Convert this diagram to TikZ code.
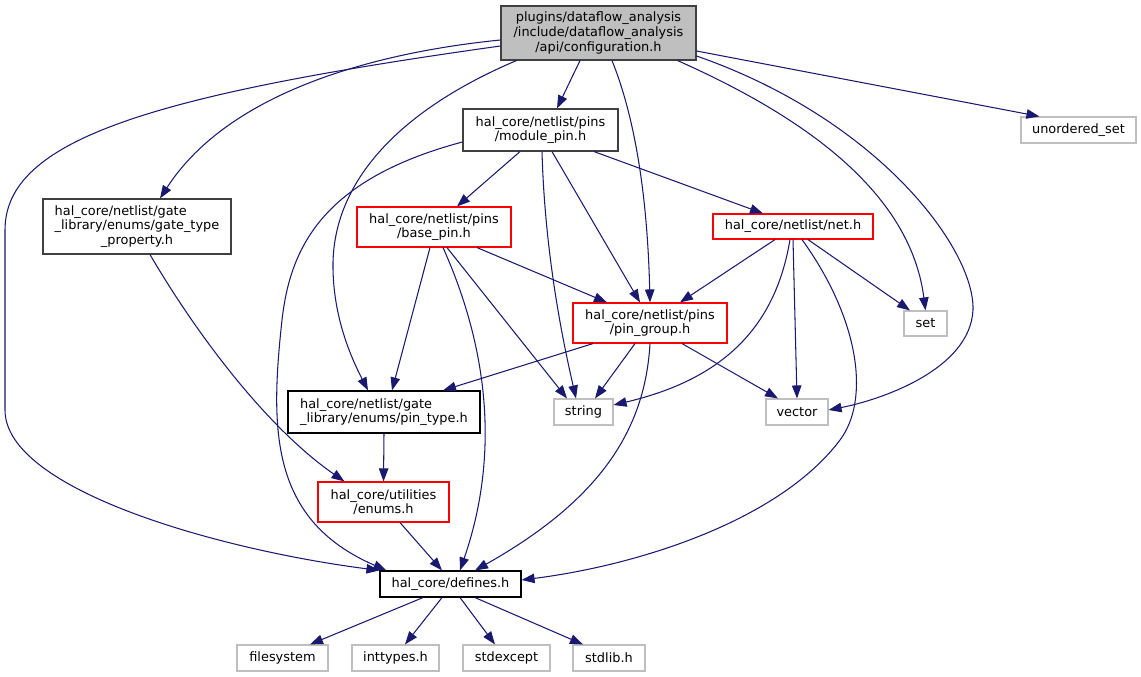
\documentclass[tikz,border=0pt]{standalone}
\usepackage{fontspec}
\setmainfont{DejaVu Sans}
\usetikzlibrary{arrows.meta,calc}
\definecolor{edgecol}{HTML}{191970}
\definecolor{sysbord}{HTML}{BFBFBF}
\definecolor{cfgfill}{HTML}{BFBFBF}
\definecolor{darkbord}{HTML}{404040}
\definecolor{redbord}{HTML}{FF0000}
\begin{document}
\begin{tikzpicture}[x=1pt,y=-1pt,
  font=\fontsize{12.9}{14.6}\selectfont,
  box/.style={draw=black, line width=1.15pt, inner sep=0pt, align=center},
  darkbox/.style={box, draw=darkbord},
  redbox/.style={box, draw=redbord},
  sysbox/.style={box, draw=sysbord, minimum height=26pt},
  cfgbox/.style={box, draw=darkbord, fill=cfgfill},
  edge/.style={draw=edgecol, line width=1.05pt, -{Triangle[length=13pt,width=9.5pt]}}]
\useasboundingbox (0,0) rectangle (1141,677);

% nodes
\node[cfgbox, minimum width=195pt, minimum height=54pt] (cfg) at (598.5,33)
  {plugins/dataflow\_analysis\\/include/dataflow\_analysis\\/api/configuration.h};
\node[darkbox, minimum width=155pt, minimum height=42pt] (mp) at (540.5,130)
  {hal\_core/netlist/pins\\/module\_pin.h};
\node[sysbox, minimum width=115pt] (us) at (1078.5,130) {unordered\_set};
\node[darkbox, minimum width=188pt, minimum height=55pt] (gtp) at (137,226.5)
  {\rlap{hal\_core/netlist/gate}\phantom{\_library/enums/gate\_type}\\\_library/enums/gate\_type\\\_property.h};
\node[redbox, minimum width=154pt, minimum height=40pt] (bp) at (434,227)
  {hal\_core/netlist/pins\\/base\_pin.h};
\node[redbox, minimum width=160pt, minimum height=25pt] (net) at (793,226.5)
  {hal\_core/netlist/net.h};
\node[redbox, minimum width=154pt, minimum height=40pt] (pg) at (650,323)
  {hal\_core/netlist/pins\\/pin\_group.h};
\node[sysbox, minimum width=43pt, minimum height=25pt] (set) at (925.5,323.5) {set};
\node[box, minimum width=192pt, minimum height=42pt] (pt) at (384,412)
  {\rlap{hal\_core/netlist/gate}\phantom{\_library/enums/pin\_type.h}\\\_library/enums/pin\_type.h};
\node[sysbox, minimum width=59pt] (str) at (583.5,412) {string};
\node[sysbox, minimum width=62pt] (vec) at (797,412) {vector};
\node[redbox, minimum width=131pt, minimum height=40pt] (en) at (383.5,502)
  {hal\_core/utilities\\/enums.h};
\node[box, minimum width=141pt, minimum height=26pt] (def) at (450.5,584) {hal\_core/defines.h};
\node[sysbox, minimum width=91pt] (fs) at (282.5,658) {filesystem};
\node[sysbox, minimum width=87pt] (it) at (395.5,658) {inttypes.h};
\node[sysbox, minimum width=87pt] (se) at (506.5,658) {stdexcept};
\node[sysbox, minimum width=72pt] (sl) at (609,658) {stdlib.h};

% edges from configuration.h
\draw[edge] ($(cfg.west)+(0,13)$) .. controls (150,95) and (5,140) .. (5,230)
  -- (5,410) .. controls (5,490) and (220,550) .. (def.north west);
\draw[edge] ($(cfg.west)+(0,7)$) .. controls (380,52) and (230,90) .. ($(gtp.north)+(23,0)$);
\draw[edge] ($(cfg.south)+(-18.5,0)$) -- ($(mp.north)+(16.5,0)$);
\draw[edge] ($(cfg.south west)+(16,0)$) .. controls (400,110) and (335,180) .. (333,262)
  .. controls (332,320) and (355,365) .. ($(pt.north)+(-16,0)$);
\draw[edge] ($(cfg.south)+(13.5,0)$) .. controls (640,130) and (648,220) .. (pg.north);
\draw[edge] ($(cfg.south east)+(-19,0)$) .. controls (800,115) and (910,190) .. (set.north);
\draw[edge] ($(cfg.east)+(0,23)$) .. controls (880,120) and (975,250) .. (973,310)
  .. controls (970,370) and (880,400) .. ($(vec.east)+(0,-2)$);
\draw[edge] ($(cfg.east)+(0,18)$) -- ($(us.north west)+(19,0)$);

% module_pin
\draw[edge] ($(mp.south)+(-20.5,0)$) -- ($(bp.north)+(23,0)$);
\draw[edge] ($(mp.south)+(53.5,0)$) -- ($(net.north)+(-30,0)$);
\draw[edge] ($(mp.south)+(11.5,0)$) -- ($(pg.north)+(-10,0)$);
\draw[edge] ($(mp.south)+(1.5,0)$) .. controls (545,260) and (565,350) .. ($(str.north)+(-7.5,0)$);
\draw[edge] ($(mp.west)+(0,12)$) .. controls (320,180) and (290,250) .. (282,320)
  .. controls (270,430) and (270,520) .. ($(def.north west)+(7,0)$);

% gate_type_property
\draw[edge] ($(gtp.south)+(13,0)$) .. controls (200,340) and (270,430) .. ($(en.north west)+(27,0)$);

% base_pin
\draw[edge] ($(bp.south)+(-4,0)$) -- ($(pt.north)+(8,0)$);
\draw[edge] ($(bp.south)+(43,0)$) -- ($(pg.north)+(-43,0)$);
\draw[edge] ($(bp.south)+(13,0)$) -- ($(str.north)+(-16.5,0)$);
\draw[edge] ($(bp.south)+(9,0)$) .. controls (480,330) and (505,440) .. ($(def.north)+(9.5,0)$);

% net.h
\draw[edge] ($(net.south)+(-18,0)$) -- ($(pg.north)+(30,0)$);
\draw[edge] ($(net.south)+(15,0)$) -- ($(set.north)+(-15.5,0)$);
\draw[edge] (net.south) -- (vec.north);
\draw[edge] ($(net.south)+(-3,0)$) .. controls (775,330) and (720,380) .. ($(str.east)+(0,-7)$);
\draw[edge] ($(net.south)+(9,0)$) .. controls (860,320) and (870,400) .. (840,440)
  .. controls (780,520) and (640,565) .. ($(def.east)+(0,-4)$);

% pin_group
\draw[edge] ($(pg.south)+(-57,0)$) -- ($(pt.north)+(59,0)$);
\draw[edge] ($(pg.south)+(-15,0)$) -- ($(str.north)+(11.5,0)$);
\draw[edge] ($(pg.south)+(32,0)$) -- ($(vec.north)+(-19,0)$);
\draw[edge] (pg.south) .. controls (645,430) and (600,500) .. ($(def.north)+(24.5,0)$);

% pin_type, enums
\draw[edge] (pt.south) -- (en.north);
\draw[edge] ($(en.south)+(16.5,0)$) -- ($(def.north)+(-8.5,0)$);

% defines
\draw[edge] ($(def.south)+(-27.5,0)$) -- ($(fs.north)+(27.5,0)$);
\draw[edge] ($(def.south)+(-8.5,0)$) -- ($(it.north)+(9.5,0)$);
\draw[edge] ($(def.south)+(9.5,0)$) -- ($(se.north)+(-11.5,0)$);
\draw[edge] ($(def.south)+(24.5,0)$) -- ($(sl.north)+(-26,0)$);
\end{tikzpicture}
\end{document}
